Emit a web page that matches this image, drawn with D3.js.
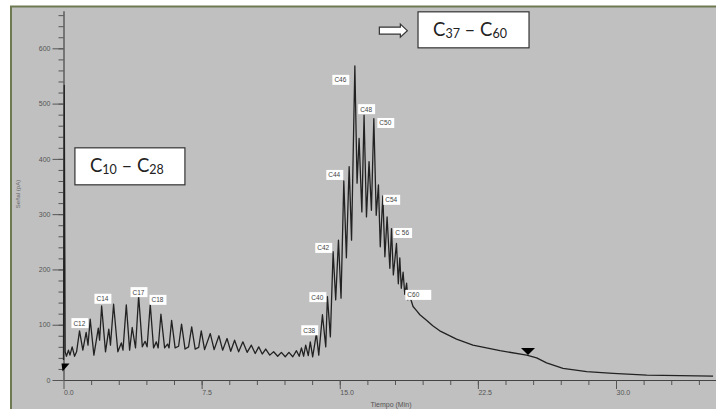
<!DOCTYPE html>
<html>
<head>
<meta charset="utf-8">
<script src="https://cdn.jsdelivr.net/npm/d3@7"></script>
<style>
  body { margin: 0; background: #fff; }
  svg { display: block; }
</style>
</head>
<body>
<div id="chart"></div>
<script>
// Chromatogram trace (time in min, signal in pA)
const times = [0, 0.04, 0.09, 0.16, 0.27, 0.35, 0.47, 0.6, 0.71, 0.87, 1.05, 1.23, 1.33, 1.45, 1.65,
  1.89, 1.96, 2.07, 2.28, 2.46, 2.55, 2.72, 2.95, 3.14, 3.23, 3.41, 3.59, 3.73, 3.91, 4.08, 4.28,
  4.43, 4.54, 4.71, 4.89, 5.04, 5.14, 5.29, 5.49, 5.65, 5.73, 5.87, 6.06, 6.25, 6.41, 6.6, 6.79,
  6.96, 7.15, 7.34, 7.48, 7.66, 7.97, 8.18, 8.44, 8.64, 8.88, 9.08, 9.29, 9.51, 9.74, 9.97, 10.2,
  10.41, 10.6, 10.79, 10.98, 11.2, 11.41, 11.63, 11.83, 12.04, 12.24, 12.45, 12.65, 12.8, 12.92,
  13.04, 13.15, 13.29, 13.4, 13.53, 13.73, 13.86, 14.06, 14.24, 14.33, 14.49, 14.64, 14.78, 14.93,
  15.07, 15.22, 15.36, 15.51, 15.64, 15.82, 15.94, 16.05, 16.2, 16.32, 16.45, 16.59, 16.72, 16.85,
  16.98, 17.1, 17.2, 17.34, 17.45, 17.57, 17.72, 17.81, 17.91, 18.08, 18.18, 18.26, 18.34, 18.44,
  18.53, 18.63, 18.7, 18.8, 18.98, 19.18, 19.35, 19.71, 20.05, 20.43, 21.34, 22.23, 23.7, 25.15,
  25.69, 26.23, 27.12, 28.41, 29.84, 31.67, 35.27];
const signal = [36, 533, 51, 43, 54, 45, 60, 43, 51, 89, 54, 86, 63, 110, 45,
  94, 72, 134, 51, 92, 63, 137, 51, 67, 54, 136, 54, 95, 58, 152, 60,
  70, 60, 137, 58, 69, 58, 119, 58, 65, 58, 108, 58, 61, 101, 56, 60,
  96, 56, 59, 89, 55, 84, 55, 80, 54, 75, 52, 72, 51, 69, 50, 63,
  48, 60, 47, 56, 45, 51, 43, 50, 42, 50, 42, 53, 43, 58,
  43, 63, 44, 69, 42, 84, 45, 118, 60, 151, 78, 232, 145, 253,
  148, 360, 221, 386, 253, 568, 356, 437, 304, 479, 295, 395, 307, 473,
  298, 353, 241, 333, 223, 295, 202, 274, 190, 247, 174, 221, 166, 195,
  155, 175, 145, 152, 133, 125, 118, 108, 98, 89, 74, 63, 53, 45,
  40, 31, 21, 15, 12, 9, 7];

// Peak labels (top-left corner of each label box, in data units)
const peakNames = ["C12", "C14", "C17", "C18", "C38", "C40", "C42", "C44", "C46", "C48", "C50", "C54", "C 56", "C60"];
const peakTimes = [0.43, 1.68, 3.64, 4.67, 12.91, 13.35, 13.67, 14.27, 14.6, 16.0, 17.04, 17.36, 17.91, 18.56];
const peakSignal = [112, 156, 168, 154, 99, 159, 248, 380, 552, 499, 474, 335, 275, 163];

// Axis ticks
const xMajor = [0, 7.5, 15, 22.5, 30];
const yMajor = [0, 100, 200, 300, 400, 500, 600];

const width = 716, height = 409;
const svg = d3.select("#chart").append("svg")
  .attr("width", width)
  .attr("height", height);

// grey panel with olive frame (runs off the right and bottom)
svg.append("rect")
  .attr("x", 11).attr("y", 6.5)
  .attr("width", 730).attr("height", 430)
  .attr("fill", "#c0c0c0")
  .attr("stroke", "#6e7b52")
  .attr("stroke-width", 2);

const x = d3.scaleLinear().domain([0, 35.5]).range([63.5, 63.5 + 35.5 * 18.417]);
const y = d3.scaleLinear().domain([0, 668]).range([380, 380 - 668 * 0.5528]);

const tickFont = "'Liberation Sans', Arial, sans-serif";

// y axis: minor ticks every 20, labelled majors every 100
svg.append("g")
  .attr("transform", `translate(${x(0)},0)`)
  .call(d3.axisLeft(y).tickValues(d3.range(0, 661, 20)).tickSize(5).tickFormat(""))
  .call(g => g.select(".domain").remove())
  .call(g => g.selectAll("line").attr("stroke", "#555"));

svg.append("g")
  .attr("transform", `translate(${x(0)},0)`)
  .call(d3.axisLeft(y).tickValues(yMajor).tickSize(11).tickPadding(2).tickSizeOuter(0))
  .call(g => g.select(".domain").attr("stroke", "#444").attr("stroke-width", 1.2))
  .call(g => g.selectAll("line").attr("stroke", "#555"))
  .call(g => g.selectAll("text").attr("fill", "#555").attr("font-size", 7).attr("font-family", tickFont));

// x axis
svg.append("g")
  .attr("transform", `translate(0,${y(0)})`)
  .call(d3.axisBottom(x).tickValues(d3.range(1.5, 35.5, 1.5)).tickSize(5).tickFormat(""))
  .call(g => g.select(".domain").remove())
  .call(g => g.selectAll("line").attr("stroke", "#555"));

svg.append("g")
  .attr("transform", `translate(0,${y(0)})`)
  .call(d3.axisBottom(x).tickValues(xMajor).tickSize(9).tickPadding(1).tickSizeOuter(0).tickFormat(d3.format(".1f")))
  .call(g => g.select(".domain").attr("stroke", "#444"))
  .call(g => g.selectAll("line").attr("stroke", "#555"))
  .call(g => g.selectAll("text").attr("fill", "#555").attr("font-size", 7)
    .attr("font-family", tickFont).attr("text-anchor", "start"));

// axis titles
svg.append("text")
  .attr("x", 391).attr("y", 406.5)
  .attr("text-anchor", "middle")
  .attr("font-family", tickFont).attr("font-size", 7).attr("fill", "#555")
  .text("Tiempo (Min)");

svg.append("text")
  .attr("transform", "translate(20,194) rotate(-90)")
  .attr("text-anchor", "middle")
  .attr("font-family", tickFont).attr("font-size", 6).attr("fill", "#666")
  .text("Señal (pA)");

// the trace
const pts = times.map((t, i) => [t, signal[i]]);
svg.append("path")
  .datum(pts)
  .attr("fill", "none")
  .attr("stroke", "#222")
  .attr("stroke-width", 1.3)
  .attr("stroke-linejoin", "round")
  .attr("d", d3.line().x(d => x(d[0])).y(d => y(d[1])));

// integration markers
svg.append("path")
  .attr("transform", `translate(${x(0)},${y(17)})`)
  .attr("d", "M-2,-7 L6,-7 L-1,1 Z")
  .attr("fill", "#000");

svg.append("path")
  .attr("transform", `translate(${x(25.22)},${y(45)})`)
  .attr("d", "M-7,-7 L7,-7 L0,0 Z")
  .attr("fill", "#000");

// peak labels
peakNames.forEach((name, i) => {
  const g = svg.append("g")
    .attr("transform", `translate(${x(peakTimes[i])},${y(peakSignal[i])})`);
  const rect = g.append("rect").attr("fill", "#fff");
  const txt = g.append("text")
    .attr("x", 2).attr("y", 7.5)
    .attr("font-family", tickFont).attr("font-size", 6.5).attr("fill", "#444")
    .text(name);
  const w = txt.node().getComputedTextLength();
  rect.attr("width", name === "C60" ? w + 14 : w + 5).attr("height", 10);
});

// range boxes
function rangeBox(t, s, w, h, a, b) {
  const g = svg.append("g").attr("transform", `translate(${x(t)},${y(s)})`);
  g.append("rect")
    .attr("width", w).attr("height", h)
    .attr("fill", "#fff").attr("stroke", "#333").attr("stroke-width", 1.2);
  const txt = g.append("text")
    .attr("x", 15).attr("y", h / 2 + 6)
    .attr("font-family", "Lato, 'Open Sans', sans-serif")
    .attr("font-size", 18.5).attr("fill", "#222");
  txt.append("tspan").text("C");
  txt.append("tspan").attr("font-size", 12.5).attr("dy", 2).text(a);
  txt.append("tspan").attr("dy", -2).text(" – C");
  txt.append("tspan").attr("font-size", 12.5).attr("dy", 2).text(b);
}
rangeBox(0.62, 420, 110, 37, "10", "28");
rangeBox(19.25, 666, 111, 36, "37", "60");

// hollow arrow pointing at the second box
svg.append("path")
  .attr("transform", `translate(${x(17.15)},${y(632)})`)
  .attr("d", "M0,-3.5 L21,-3.5 L21,-6.5 L28,0 L21,6.5 L21,3.5 L0,3.5 Z")
  .attr("fill", "#fff")
  .attr("stroke", "#333")
  .attr("stroke-width", 1.2);
</script>
</body>
</html>
